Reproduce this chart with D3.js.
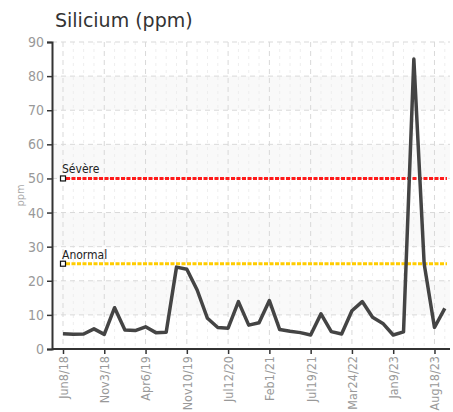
<!DOCTYPE html>
<html>
<head>
<meta charset="utf-8">
<script src="https://cdn.jsdelivr.net/npm/d3@7"></script>
<style>
  body { margin: 0; background: #fff; }
  text { font-family: "Liberation Sans Narrow", "DejaVu Sans Condensed", Roboto, sans-serif; }
</style>
</head>
<body>
<svg id="graph" width="453" height="412"></svg>
<script>
// tick labels, one every 4 samples
let tickLabels = ["Jun8/18", "Nov3/18", "Apr6/19", "Nov10/19", "Jul12/20", "Feb1/21", "Jul19/21", "Mar24/22", "Jan9/23", "Aug18/23"]
let silicium = [4.5, 4.3, 4.4, 5.9, 4.3, 12.1, 5.6, 5.4, 6.5, 4.8,
                4.9, 24, 23.4, 17.3, 9, 6.3, 6.1, 13.9, 7, 7.7,
                14.2, 5.7, 5.2, 4.8, 4.1, 10.3, 5.1, 4.4, 11.2, 13.9,
                9.3, 7.5, 4.1, 5, 85, 25, 6.3, 11.9]
let limits = [{name: "Sévère", value: 50, color: "#ff1a1a"},
              {name: "Anormal", value: 25, color: "#ffcc00"}]
let yTicks = [0, 10, 20, 30, 40, 50, 60, 70, 80, 90]

//======================= SET UP SVG & SCALES =========================
let svg = d3.select("#graph"),
    plotLeft = 52, plotRight = 450, plotTop = 42, plotBottom = 349

let x = d3.scaleLinear().domain([0, silicium.length - 1]).range([63, 444.8]),
    y = d3.scaleLinear().domain([0, 90]).range([plotBottom, plotTop])

// alternating bands
let bands = [10, 30, 50, 70]
svg.selectAll(".band")
  .data(bands)
  .enter().append("rect")
  .attr("x", plotLeft)
  .attr("y", function(d) { return y(d + 10) })
  .attr("width", plotRight - plotLeft)
  .attr("height", function(d) { return y(d) - y(d + 10) })
  .attr("fill", "#f9f9f9")

// minor vertical grid at each sample
svg.selectAll(".vminor")
  .data(d3.range(silicium.length).filter(function(i) { return i % 4 != 0 }))
  .enter().append("line")
  .attr("x1", function(d) { return x(d) }).attr("x2", function(d) { return x(d) })
  .attr("y1", plotTop).attr("y2", plotBottom)
  .attr("stroke", "#eeeeee")
  .attr("stroke-dasharray", "3,4")

// major grid
svg.selectAll(".vmajor")
  .data(d3.range(0, silicium.length, 4))
  .enter().append("line")
  .attr("x1", function(d) { return x(d) }).attr("x2", function(d) { return x(d) })
  .attr("y1", plotTop).attr("y2", plotBottom)
  .attr("stroke", "#d9d9d9")
  .attr("stroke-dasharray", "5,4")

svg.selectAll(".hmajor")
  .data(yTicks.slice(1))
  .enter().append("line")
  .attr("x1", plotLeft).attr("x2", plotRight)
  .attr("y1", function(d) { return y(d) }).attr("y2", function(d) { return y(d) })
  .attr("stroke", "#d9d9d9")
  .attr("stroke-dasharray", "5,4")

//======================= AXES =========================
let yAxis = svg.append("g")
  .attr("transform", "translate(" + plotLeft + ",0)")
  .call(d3.axisLeft(y).tickValues(yTicks).tickSize(5).tickPadding(3))
yAxis.select(".domain").attr("stroke", "#333").attr("stroke-width", 2)
yAxis.selectAll(".tick line").attr("stroke", "#333").attr("stroke-width", 1.5)
yAxis.selectAll("text").attr("fill", "#999").style("font-size", "14px")

let xAxis = svg.append("g")
  .attr("transform", "translate(0," + plotBottom + ")")
  .call(d3.axisBottom(x)
    .tickValues(d3.range(0, silicium.length - 1, 4))
    .tickFormat(function(d) { return tickLabels[d / 4] })
    .tickSize(5).tickSizeOuter(0))
xAxis.select(".domain").attr("stroke", "#333").attr("stroke-width", 2)
  .attr("d", "M" + plotLeft + ",0H" + plotRight)
xAxis.selectAll(".tick line").attr("stroke", "#333").attr("stroke-width", 1.5)
xAxis.selectAll("text")
  .attr("fill", "#999")
  .style("font-size", "12.5px")
  .attr("text-anchor", "end")
  .attr("transform", "rotate(-90)")
  .attr("x", -7).attr("y", 0).attr("dy", "0.35em")

svg.append("text")
  .attr("transform", "translate(24," + y(45) + ") rotate(-90)")
  .attr("text-anchor", "middle")
  .attr("fill", "#aaa")
  .style("font-size", "11px")
  .text("ppm")

svg.append("text")
  .attr("x", 55).attr("y", 27)
  .attr("fill", "#333")
  .style("font-family", "'DejaVu Sans', sans-serif")
  .style("font-size", "19px")
  .text("Silicium (ppm)")

//======================= LIMIT LINES =========================
let limit = svg.selectAll(".limit")
  .data(limits)
  .enter().append("g")

limit.append("line")
  .attr("x1", x(0) + 3).attr("x2", plotRight - 3)
  .attr("y1", function(d) { return y(d.value) }).attr("y2", function(d) { return y(d.value) })
  .attr("stroke", function(d) { return d.color })
  .attr("stroke-width", 3)
  .attr("stroke-dasharray", "4,1.5")

limit.append("rect")
  .attr("x", x(0) - 2.5).attr("y", function(d) { return y(d.value) - 2.5 })
  .attr("width", 5).attr("height", 5)
  .attr("fill", "#fff").attr("stroke", "#111").attr("stroke-width", 1.2)

limit.append("text")
  .attr("x", x(0) - 1).attr("y", function(d) { return y(d.value) - 5 })
  .attr("fill", "#222")
  .style("font-size", "12px")
  .text(function(d) { return d.name })

//======================= DATA LINE =========================
let line = d3.line()
  .x(function(d, i) { return x(i) })
  .y(function(d) { return y(d) })

svg.append("path")
  .datum(silicium)
  .attr("d", line)
  .attr("fill", "none")
  .attr("stroke", "#444")
  .attr("stroke-width", 3.5)
  .attr("stroke-linejoin", "round")
</script>
</body>
</html>
